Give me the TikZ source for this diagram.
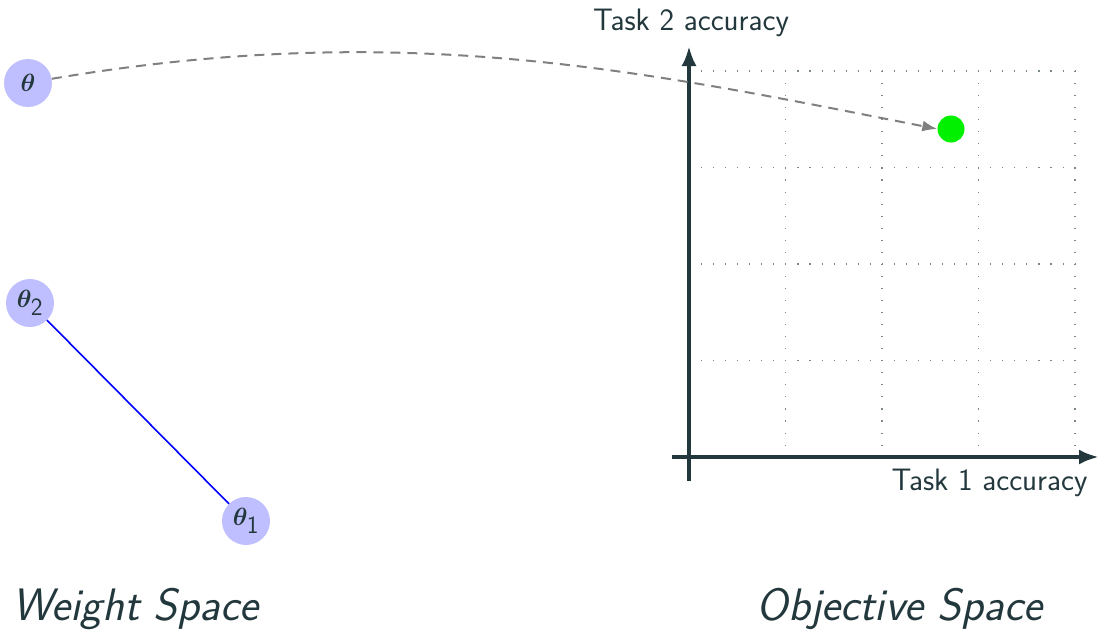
\documentclass[tikz,border=0pt]{standalone}
\usepackage{amsmath,bm}
\usetikzlibrary{arrows.meta}
\definecolor{ink}{RGB}{35,56,61}
\definecolor{nodeblue}{RGB}{191,191,255}
\definecolor{dotgreen}{RGB}{0,240,0}
\definecolor{dashgray}{RGB}{128,128,128}
\begin{document}
\begin{tikzpicture}[x=1pt,y=-1pt,
  wnode/.style={circle,fill=nodeblue,minimum size=48pt,inner sep=0pt,text=ink,font=\fontsize{34}{40}\selectfont},
  axis/.style={draw=ink,line width=4pt,-{Latex[length=20pt,width=15pt]}},
  gridline/.style={draw=ink!60,line width=1.1pt,dash pattern=on 1.1pt off 10.95pt},
  lbl/.style={text=ink,font=\sffamily\fontsize{31}{36}\selectfont},
  title/.style={text=ink,font=\sffamily\itshape\fontsize{45.5}{54}\selectfont}]
\useasboundingbox (0,0) rectangle (1099,630);
% grid
\foreach \i in {1,2,3,4}{
  \draw[gridline] (689+96.5*\i,71) -- (689+96.5*\i,457);
  \draw[gridline] (701,457-96.5*\i) -- (1075,457-96.5*\i);
}
% axes
\coordinate (xs) at (672,457);
\coordinate (xe) at (1099,457);
\coordinate (ys) at (689,481);
\coordinate (ye) at (689,46);
\draw[axis] (xs) -- (xe);
\draw[axis] (ys) -- (ye);
\node[lbl,anchor=base] (ylab) at (691,30) {Task 2 accuracy};
\node[lbl,anchor=base east] (xlab) at (1091,490) {Task 1 accuracy};
% nodes
\node[wnode] (t) at (28,83) {$\bm{\theta}$};
\node[wnode] (t2) at (30,303) {$\bm{\theta}_{\mathsf{2}}$};
\node[wnode] (t1) at (246,521) {$\bm{\theta}_{\mathsf{1}}$};
\node[circle,fill=dotgreen,minimum size=27pt,inner sep=0pt] (g) at (951,129) {};
\draw[blue,line width=1.6pt] (t2) -- (t1);
\draw[dashgray,line width=2pt,dash pattern=on 10pt off 7pt,-{Latex[length=15pt,width=11pt]}]
  (t.10) .. controls (402,19.5) and (638,70) .. (g.west);
\node[title,anchor=base west] (ws) at (9,620) {Weight Space};
\node[title,anchor=base west] (os) at (753,620) {Objective Space};
\end{tikzpicture}
\end{document}
